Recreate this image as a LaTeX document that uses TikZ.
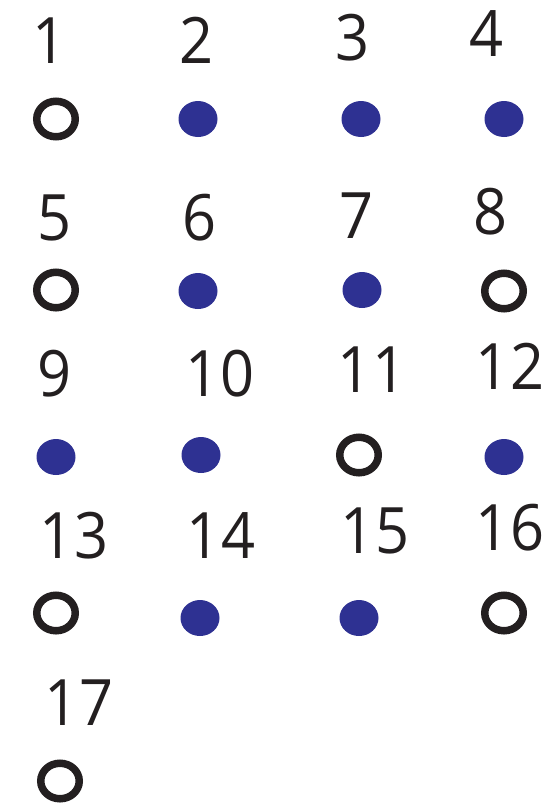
\documentclass[tikz,border=0pt]{standalone}
\usepackage{fontspec}
\setmainfont{Open Sans}[FakeStretch=0.93]
\usepackage{tikz}
\usetikzlibrary{shapes.geometric}
\definecolor{inkblack}{HTML}{231F20}
\definecolor{dotblue}{HTML}{2E3192}

\begin{document}
\begin{tikzpicture}[x=1pt,y=-1pt,
  num/.style={inner sep=0pt,text=inkblack,font=\fontsize{64}{64}\selectfont},
  hollow/.style={ellipse,draw=inkblack,line width=7.5pt,minimum width=38.5pt,minimum height=35.5pt,inner sep=0pt},
  solid/.style={ellipse,fill=dotblue,minimum width=39pt,minimum height=36pt,inner sep=0pt}]
  \useasboundingbox (0,0) rectangle (548,807);
  % row 1
  \node[num] (n1) at (50,41) {1};
  \node[num] (n2) at (197,40) {2};
  \node[num] (n3) at (353,38) {3};
  \node[num] (n4) at (487,34) {4};
  \node[hollow] (p1) at (56,119) {};
  \node[solid] (p2) at (198,119) {};
  \node[solid] (p3) at (361,119) {};
  \node[solid] (p4) at (504,119) {};
  % row 2
  \node[num] (n5) at (55,218) {5};
  \node[num] (n6) at (200,218) {6};
  \node[num] (n7) at (357,216) {7};
  \node[num] (n8) at (491,212) {8};
  \node[hollow] (p5) at (56,290) {};
  \node[solid] (p6) at (198,291) {};
  \node[solid] (p7) at (362,290) {};
  \node[hollow] (p8) at (504,291) {};
  % row 3
  \node[num] (n9) at (55,374) {9};
  \node[num] (n10) at (220,374) {10};
  \node[num] (n11) at (372,370) {11};
  \node[num] (n12) at (510,366) {12};
  \node[solid] (p9) at (56,457) {};
  \node[solid] (p10) at (201,455) {};
  \node[hollow] (p11) at (359,455) {};
  \node[solid] (p12) at (504,457) {};
  % row 4
  \node[num] (n13) at (74,536) {13};
  \node[num] (n14) at (221,536) {14};
  \node[num] (n15) at (375,531) {15};
  \node[num] (n16) at (510,528) {16};
  \node[hollow] (p13) at (56,613) {};
  \node[solid] (p14) at (200,618) {};
  \node[solid] (p15) at (359,618) {};
  \node[hollow] (p16) at (504,613) {};
  % row 5
  \node[num] (n17) at (79,703) {17};
  \node[hollow] (p17) at (60,781) {};
\end{tikzpicture}
\end{document}
